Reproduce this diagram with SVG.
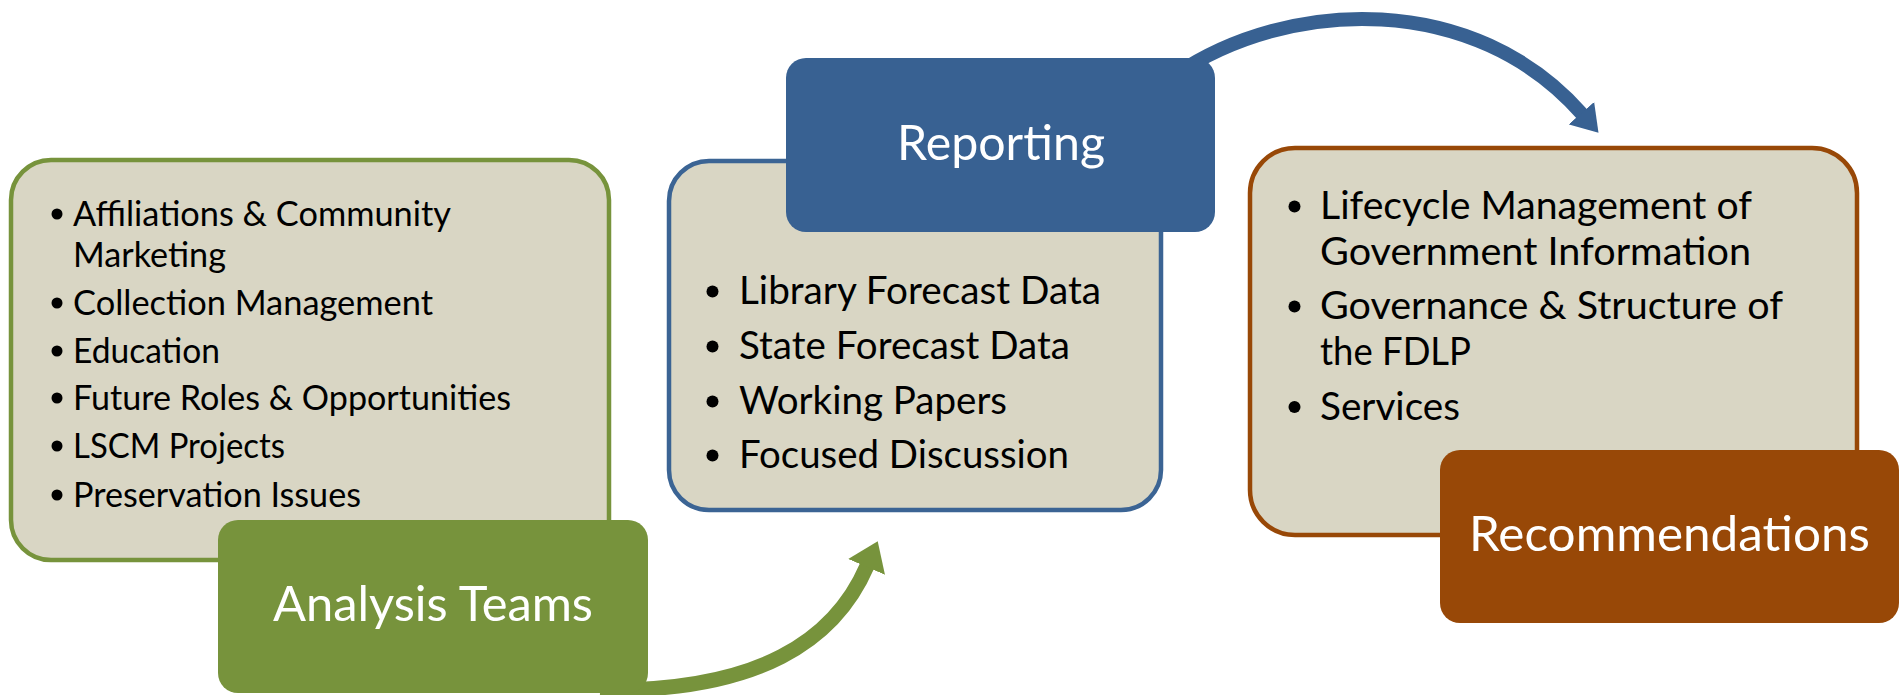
<svg xmlns="http://www.w3.org/2000/svg" width="1904" height="695" viewBox="0 0 1904 695">
<style>
.panel{fill:#d9d6c4;stroke-width:4.5}
.t{font-family:Lato,"Liberation Sans",sans-serif;fill:#000}
.gs{font-size:34px}
.cs{font-size:39px}
.title{font-family:Lato,"Liberation Sans",sans-serif;font-size:48px;fill:#fff;text-anchor:middle}
.dot{fill:#000}
.conn{fill:none;stroke-linecap:butt}
</style>
<defs>
<marker id="headG" markerUnits="userSpaceOnUse" viewBox="0 0 28 40" markerWidth="28" markerHeight="40" refX="1" refY="20" orient="auto">
<path d="M0,0 L28,20 L0,40 Z" fill="#77933c"/>
</marker>
<marker id="headB" markerUnits="userSpaceOnUse" viewBox="0 0 26 34" markerWidth="26" markerHeight="34" refX="1" refY="17" orient="auto">
<path d="M0,0 L26,17 L0,34 Z" fill="#386192"/>
</marker>
</defs>

<g id="connectors">
<path class="conn" d="M600 690 C760 692 835 640 867 566" stroke="#77933c" stroke-width="15" marker-end="url(#headG)"/>
<path class="conn" d="M1175 75 C1290 -3 1475 -8 1582 114" stroke="#386192" stroke-width="14" marker-end="url(#headB)"/>
</g>

<g id="analysis-teams">
<rect class="panel" x="11" y="160" width="598" height="400" rx="40" stroke="#77933c"/>
<circle class="dot" cx="57" cy="214" r="5.5"/>
<text class="t gs" x="73" y="226" textLength="378" lengthAdjust="spacingAndGlyphs">Affiliations &amp; Community</text>
<text class="t gs" x="73" y="267" textLength="153" lengthAdjust="spacingAndGlyphs">Marketing</text>
<circle class="dot" cx="57" cy="303" r="5.5"/>
<text class="t gs" x="73" y="315" textLength="360" lengthAdjust="spacingAndGlyphs">Collection Management</text>
<circle class="dot" cx="57" cy="351" r="5.5"/>
<text class="t gs" x="73" y="363" textLength="147" lengthAdjust="spacingAndGlyphs">Education</text>
<circle class="dot" cx="57" cy="398" r="5.5"/>
<text class="t gs" x="73" y="410" textLength="438" lengthAdjust="spacingAndGlyphs">Future Roles &amp; Opportunities</text>
<circle class="dot" cx="57" cy="446" r="5.5"/>
<text class="t gs" x="73" y="458" textLength="212" lengthAdjust="spacingAndGlyphs">LSCM Projects</text>
<circle class="dot" cx="57" cy="495" r="5.5"/>
<text class="t gs" x="73" y="507" textLength="288" lengthAdjust="spacingAndGlyphs">Preservation Issues</text>
<rect x="218" y="520" width="430" height="173" rx="20" fill="#77933c"/>
<text class="title" x="433" y="621" textLength="320" lengthAdjust="spacingAndGlyphs">Analysis Teams</text>
</g>

<g id="reporting">
<rect class="panel" x="669" y="161" width="492" height="349" rx="40" stroke="#3b6494"/>
<circle class="dot" cx="712.5" cy="291.5" r="6"/>
<text class="t cs" x="739" y="304" textLength="362" lengthAdjust="spacingAndGlyphs">Library Forecast Data</text>
<circle class="dot" cx="712.5" cy="346.5" r="6"/>
<text class="t cs" x="739" y="359" textLength="331" lengthAdjust="spacingAndGlyphs">State Forecast Data</text>
<circle class="dot" cx="712.5" cy="401.5" r="6"/>
<text class="t cs" x="739" y="414" textLength="268" lengthAdjust="spacingAndGlyphs">Working Papers</text>
<circle class="dot" cx="712.5" cy="455.5" r="6"/>
<text class="t cs" x="739" y="468" textLength="330" lengthAdjust="spacingAndGlyphs">Focused Discussion</text>
<rect x="786" y="58" width="429" height="174" rx="20" fill="#386192"/>
<text class="title" x="1001" y="160" textLength="208" lengthAdjust="spacingAndGlyphs">Reporting</text>
</g>

<g id="recommendations">
<rect class="panel" x="1250" y="148" width="607" height="387" rx="45" stroke="#984807"/>
<circle class="dot" cx="1294.5" cy="206.5" r="6"/>
<text class="t cs" x="1320" y="219" textLength="432" lengthAdjust="spacingAndGlyphs">Lifecycle Management of</text>
<text class="t cs" x="1320" y="265" textLength="431" lengthAdjust="spacingAndGlyphs">Government Information</text>
<circle class="dot" cx="1294.5" cy="306.5" r="6"/>
<text class="t cs" x="1320" y="319" textLength="463" lengthAdjust="spacingAndGlyphs">Governance &amp; Structure of</text>
<text class="t cs" x="1320" y="365" textLength="151" lengthAdjust="spacingAndGlyphs">the FDLP</text>
<circle class="dot" cx="1294.5" cy="407" r="6"/>
<text class="t cs" x="1320" y="419.5" textLength="140" lengthAdjust="spacingAndGlyphs">Services</text>
<rect x="1440" y="450" width="459" height="173" rx="20" fill="#984807"/>
<text class="title" x="1669.5" y="551" textLength="401" lengthAdjust="spacingAndGlyphs">Recommendations</text>
</g>
</svg>
